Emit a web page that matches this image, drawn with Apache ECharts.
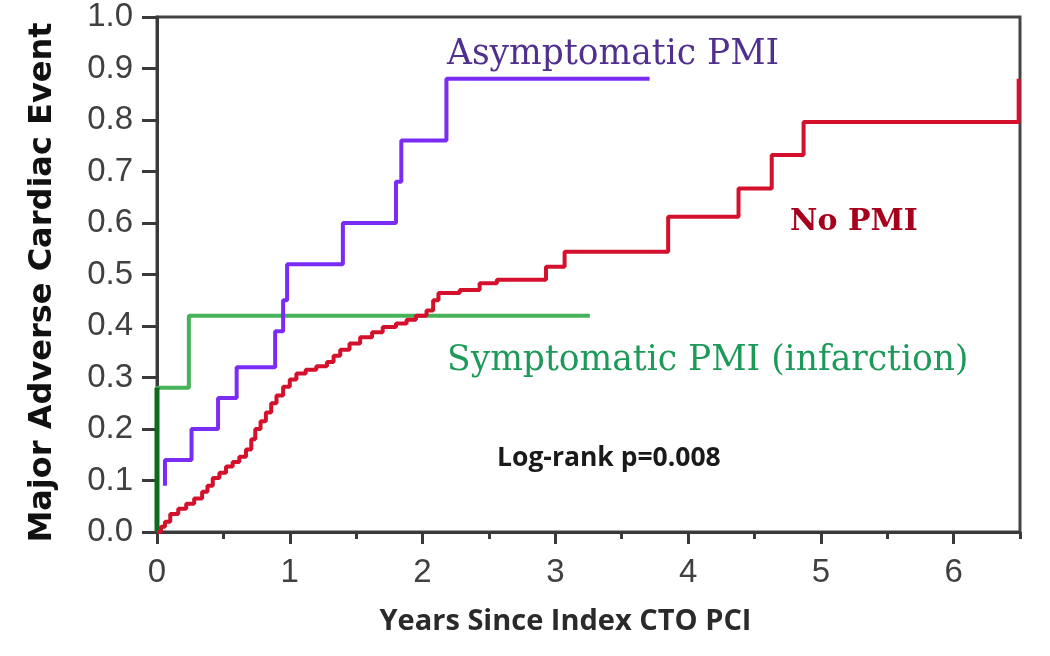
<!DOCTYPE html>
<html>
<head>
<meta charset="utf-8">
<script src="https://cdn.jsdelivr.net/npm/echarts@6/dist/echarts.min.js"></script>
<style>
html,body{margin:0;padding:0;background:#fff;}
#chart{width:1050px;height:656px;}
</style>
</head>
<body>
<div id="chart"></div>
<script>
// Kaplan-Meier style cumulative event curves: [years, cumulative MACE]
const xMajorTicks = [0, 1, 2, 3, 4, 5, 6];
const xMinorTicks = [0.5, 1.5, 2.5, 3.5, 4.5, 5.5, 6.5];
const symptomatic = [[0, 0], [0, 0.28], [0.24, 0.42], [3.26, 0.42]];
const asymptomatic = [[0.06, 0.09], [0.06, 0.14], [0.26, 0.20], [0.46, 0.26], [0.60, 0.32], [0.89, 0.39], [0.95, 0.45], [0.98, 0.52], [1.40, 0.60], [1.80, 0.68], [1.84, 0.76], [2.18, 0.88], [3.71, 0.88]];
const noPMI = [[0, 0], [0.03, 0.01], [0.06, 0.02], [0.10, 0.035], [0.16, 0.045], [0.22, 0.055], [0.28, 0.065], [0.34, 0.078], [0.38, 0.09], [0.42, 0.105], [0.47, 0.115], [0.52, 0.127], [0.57, 0.136], [0.62, 0.146], [0.67, 0.16], [0.71, 0.18], [0.74, 0.20], [0.78, 0.215], [0.82, 0.232], [0.86, 0.25], [0.90, 0.265], [0.95, 0.282], [1.00, 0.296], [1.05, 0.308], [1.12, 0.315], [1.20, 0.322], [1.28, 0.33], [1.33, 0.342], [1.38, 0.354], [1.45, 0.366], [1.53, 0.378], [1.62, 0.388], [1.70, 0.398], [1.80, 0.405], [1.88, 0.412], [1.95, 0.42], [2.03, 0.43], [2.08, 0.45], [2.12, 0.464], [2.28, 0.47], [2.43, 0.483], [2.56, 0.49], [2.93, 0.515], [3.07, 0.544], [3.85, 0.612], [4.38, 0.667], [4.63, 0.732], [4.87, 0.796], [6.49, 0.88]];

const chart = echarts.init(document.getElementById('chart'));
const axisColor = '#3a3a3a';
const tickFont = {fontFamily: 'Liberation Sans', fontSize: 33, color: '#404040'};
chart.setOption({
  backgroundColor: '#fff',
  animation: false,
  grid: {left: 157, top: 17, width: 863, height: 515, show: true, borderColor: '#444', borderWidth: 3, backgroundColor: '#fff'},
  xAxis: [{
    type: 'value', min: 0, max: 6.5, position: 'bottom',
    name: 'Years Since Index CTO PCI', nameLocation: 'middle', nameGap: 75,
    nameTextStyle: {fontFamily: 'Open Sans', fontWeight: 'bold', fontSize: 29, color: '#2a2a2a', padding: [0, 46, 0, 0]},
    axisLine: {show: true, onZero: false, lineStyle: {color: axisColor, width: 3}},
    axisTick: {show: true, length: 12, customValues: xMajorTicks, lineStyle: {color: axisColor, width: 3}},
    axisLabel: {customValues: xMajorTicks, margin: 24, ...tickFont},
    splitLine: {show: false}
  }, {
    type: 'value', min: 0, max: 6.5, position: 'bottom',
    axisLine: {show: false},
    axisTick: {show: true, length: 7, customValues: xMinorTicks, lineStyle: {color: axisColor, width: 3}},
    axisLabel: {show: false},
    splitLine: {show: false}
  }],
  yAxis: {
    type: 'value', min: 0, max: 1, interval: 0.1,
    name: 'Major Adverse Cardiac Event', nameLocation: 'middle', nameGap: 98,
    nameTextStyle: {fontFamily: 'DejaVu Sans', fontWeight: 'bold', fontSize: 32, color: '#111', padding: [0, 16, 0, 0]},
    axisLine: {show: true, lineStyle: {color: axisColor, width: 3}},
    axisTick: {show: true, length: 15, lineStyle: {color: axisColor, width: 3}},
    axisLabel: {margin: 24, formatter: v => v.toFixed(1), ...tickFont},
    splitLine: {show: false}
  },
  series: [
    {name: 'Symptomatic PMI', type: 'line', step: 'end', data: symptomatic, showSymbol: false, symbol: 'none',
     lineStyle: {color: '#45b25a', width: 4}, z: 3},
    {name: 'Symptomatic early', type: 'line', data: symptomatic.slice(0, 2), symbol: 'none',
     lineStyle: {color: '#0d6a1f', width: 5}, z: 4},
    {name: 'No PMI', type: 'line', step: 'end', data: noPMI, symbol: 'none',
     lineStyle: {color: '#d4102c', width: 4}, z: 5},
    {name: 'Asymptomatic PMI', type: 'line', step: 'end', data: asymptomatic, symbol: 'none',
     lineStyle: {color: '#7a2cf5', width: 4}, z: 6}
  ],
  graphic: [
    {type: 'text', left: 447, top: 38, style: {text: 'Asymptomatic PMI', fontFamily: 'DejaVu Serif', fontSize: 34.5, fill: '#50308f'}},
    {type: 'text', left: 790, top: 207, style: {text: 'No PMI', fontFamily: 'DejaVu Serif', fontWeight: 'bold', fontSize: 30, fill: '#a8001c'}},
    {type: 'text', left: 447, top: 344, style: {text: 'Symptomatic PMI (infarction)', fontFamily: 'DejaVu Serif', fontSize: 34.5, fill: '#1d9a5a'}},
    {type: 'text', left: 497, top: 445, style: {text: 'Log-rank p=0.008', fontFamily: 'Open Sans', fontWeight: 'bold', fontSize: 26.5, fill: '#1a1a1a'}}
  ]
});
</script>
</body>
</html>
